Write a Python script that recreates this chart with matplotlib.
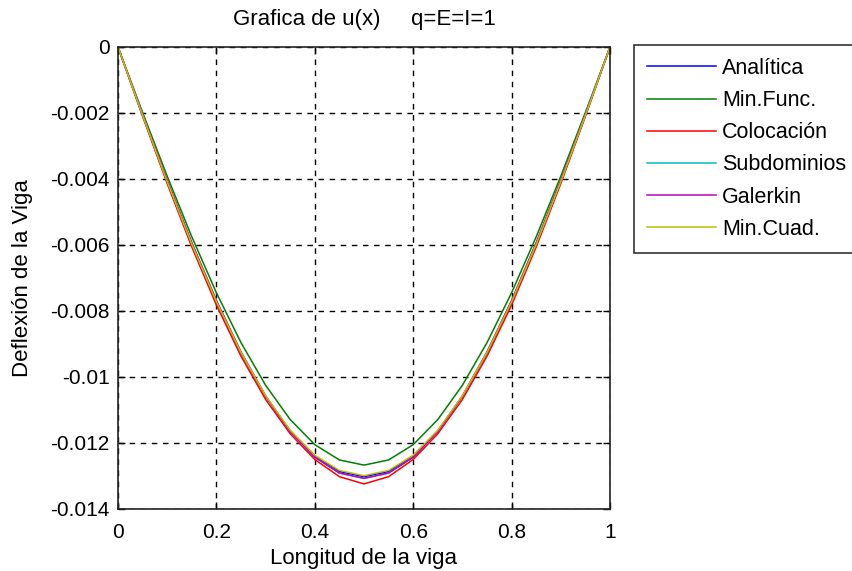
import matplotlib
matplotlib.use("Agg")
import matplotlib.pyplot as plt

plt.rcParams["font.family"] = ["Liberation Sans", "DejaVu Sans"]

# Positions along the beam
x = [0.00, 0.05, 0.10, 0.15, 0.20, 0.25, 0.30, 0.35, 0.40, 0.45, 0.50,
     0.55, 0.60, 0.65, 0.70, 0.75, 0.80, 0.85, 0.90, 0.95, 1.00]

# Deflection for each method
analitica = [0, -0.002073, -0.004088, -0.005990, -0.007733, -0.009277, -0.010588,
             -0.011636, -0.012400, -0.012865, -0.013021, -0.012865, -0.012400,
             -0.011636, -0.010588, -0.009277, -0.007733, -0.005990, -0.004088,
             -0.002073, 0]
min_func = [0, -0.001982, -0.003915, -0.005752, -0.007447, -0.008959, -0.010250,
            -0.011289, -0.012050, -0.012514, -0.012670, -0.012514, -0.012050,
            -0.011289, -0.010250, -0.008959, -0.007447, -0.005752, -0.003915,
            -0.001982, 0]
colocacion = [0, -0.002100, -0.004140, -0.006060, -0.007820, -0.009370, -0.010680,
              -0.011720, -0.012500, -0.013020, -0.013240, -0.013020, -0.012500,
              -0.011720, -0.010680, -0.009370, -0.007820, -0.006060, -0.004140,
              -0.002100, 0]
subdominios = [0, -0.002045, -0.004039, -0.005934, -0.007683, -0.009243, -0.010575,
               -0.011647, -0.012432, -0.012910, -0.013071, -0.012910, -0.012432,
               -0.011647, -0.010575, -0.009243, -0.007683, -0.005934, -0.004039,
               -0.002045, 0]
galerkin = [0, -0.002045, -0.004039, -0.005934, -0.007683, -0.009243, -0.010575,
            -0.011647, -0.012432, -0.012910, -0.013071, -0.012910, -0.012432,
            -0.011647, -0.010575, -0.009243, -0.007683, -0.005934, -0.004039,
            -0.002045, 0]
min_cuad = [0, -0.002070, -0.004080, -0.005980, -0.007720, -0.009260, -0.010570,
            -0.011610, -0.012370, -0.012830, -0.012990, -0.012830, -0.012370,
            -0.011610, -0.010570, -0.009260, -0.007720, -0.005980, -0.004080,
            -0.002070, 0]

series = [
    ("Analítica", analitica, (0, 0, 1)),
    ("Min.Func.", min_func, (0, 0.5, 0)),
    ("Colocación", colocacion, (1, 0, 0)),
    ("Subdominios", subdominios, (0, 0.75, 0.75)),
    ("Galerkin", galerkin, (0.75, 0, 0.75)),
    ("Min.Cuad.", min_cuad, (0.75, 0.75, 0)),
]

fig = plt.figure(figsize=(8.52, 5.71), dpi=100)
ax = fig.add_axes([118 / 852, 1 - 509 / 571, (610 - 118) / 852, (509 - 47) / 571])

for name, vals, col in series:
    ax.plot(x, vals, color=col, linewidth=1.1, label=name)

ax.set_xlim(0, 1)
ax.set_ylim(-0.014, 0)
ax.set_xticks([0, 0.2, 0.4, 0.6, 0.8, 1])
ax.set_xticklabels(["0", "0.2", "0.4", "0.6", "0.8", "1"])
ax.set_yticks([-0.014, -0.012, -0.01, -0.008, -0.006, -0.004, -0.002, 0])
ax.set_yticklabels(["-0.014", "-0.012", "-0.01", "-0.008", "-0.006", "-0.004", "-0.002", "0"])
ax.tick_params(direction="in", length=5, width=1, labelsize=15, top=True, right=True)
ax.tick_params(axis="x", pad=10)
ax.tick_params(axis="y", pad=6)
ax.grid(True, color="black", linestyle=(0, (4, 4)), linewidth=1)
for s in ax.spines.values():
    s.set_linewidth(1.2)
    s.set_color("#222222")

ax.set_title("Grafica de u(x)     q=E=I=1", fontsize=16, pad=16)
ax.set_xlabel("Longitud de la viga", fontsize=16, labelpad=4.5)
ax.set_ylabel("Deflexión de la Viga", fontsize=16, labelpad=12)

leg = fig.legend(loc="upper left", bbox_to_anchor=(634 / 852, 1 - 45 / 571),
                 fontsize=15.5, frameon=True, fancybox=False, edgecolor="black",
                 handlelength=3.2, handletextpad=0.28, labelspacing=0.52,
                 borderpad=0.6, borderaxespad=0)
leg.get_frame().set_linewidth(1.2)

plt.savefig("out.png", dpi=100)
plt.close()
